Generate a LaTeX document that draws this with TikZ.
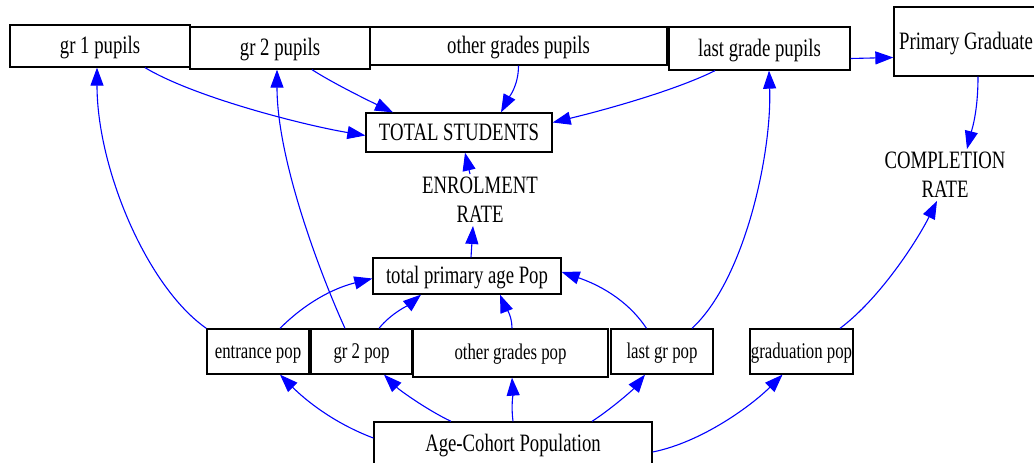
\documentclass[tikz,border=0pt]{standalone}
\usepackage{fontspec}
\newfontfamily\labelfont[FakeStretch=0.75]{Liberation Serif}
\usetikzlibrary{arrows.meta}

\begin{document}
\begin{tikzpicture}[x=1pt,y=-1pt,
  box/.style={draw=black, line width=1.3pt, inner sep=0pt, text=black,
    text height=18.75pt, text depth=3.75pt,
    font=\labelfont\fontsize{25}{29}\selectfont},
  popbox/.style={box, text height=16.8pt, text depth=3.4pt,
    font=\labelfont\fontsize{22.4}{26}\selectfont},
  rate/.style={align=center, inner sep=3pt, text=black,
    font=\labelfont\fontsize{25}{29}\selectfont},
  link/.style={draw=blue, line width=1.1pt, -{Triangle[length=18pt,width=13pt]}},
]
\useasboundingbox[fill=white] (0,0) rectangle (1034,463);

% stocks of pupils
\node[box, minimum width=180pt, minimum height=42pt] (g1p) at (100,46) {gr 1 pupils};
\node[box, minimum width=180pt, minimum height=42pt] (g2p) at (280,48) {gr 2 pupils};
\node[box, minimum width=297pt, minimum height=38pt] (ogp) at (518.5,46) {other grades pupils};
\node[box, minimum width=181pt, minimum height=43pt] (lgp) at (759.5,48.5) {last grade pupils};
\node[box, minimum width=144pt, minimum height=69pt] (pg) at (966,41.5) {Primary Graduate};
\node[box, minimum width=186pt, minimum height=39pt] (ts) at (459,132.5) {TOTAL STUDENTS};

% rates
\node[rate] (er) at (480,200) {ENROLMENT\\RATE};
\node[rate] (cr) at (945,175) {COMPLETION\\RATE};

% population
\node[box, minimum width=188pt, minimum height=36pt] (tpa) at (467,276) {total primary age Pop};
\node[popbox, minimum width=102pt, minimum height=45pt] (ep) at (258,351.5) {entrance pop};
\node[popbox, minimum width=101pt, minimum height=45pt] (g2pop) at (361.5,351.5) {gr 2 pop};
\node[popbox, minimum width=195pt, minimum height=48pt] (ogpop) at (510.5,353) {other grades pop};
\node[popbox, minimum width=102pt, minimum height=45pt] (lgpop) at (662,351.5) {last gr pop};
\node[popbox, minimum width=103pt, minimum height=45pt] (gpop) at (801.5,351.5) {graduation pop};
\node[box, minimum width=278pt, minimum height=44pt] (acp) at (513,444) {Age-Cohort Population};

% pupils into the total
\draw[link] ([xshift=45pt]g1p.south) .. controls +(50,30) and +(-60,-10) .. ([yshift=-3pt]ts.west);
\draw[link] ([xshift=32pt]g2p.south) .. controls +(20,13) and +(-25,-12) .. ([xshift=-66pt]ts.north);
\draw[link] (ogp.south) .. controls +(0,20) and +(8,-15) .. ([xshift=42pt]ts.north);
\draw[link] ([xshift=-44.5pt]lgp.south) .. controls +(-40,20) and +(50,-12) .. ([yshift=10pt]ts.east);
\draw[link] ([yshift=-10pt]lgp.east) -- ([yshift=-16pt]pg.west);
\draw[link] ([xshift=12pt]pg.south) .. controls +(0,35) and +(5,-20) .. ([xshift=22pt]cr.north);
\draw[link] ([xshift=38.5pt]gpop.north) .. controls +(40,-30) and +(-20,40) .. ([xshift=-8pt]cr.south);

% cohort into the population boxes
\draw[link] ([yshift=-8pt]acp.east) .. controls +(50,-10) and +(-30,30) .. ([xshift=-19pt]gpop.south);
\draw[link] ([xshift=79pt]acp.north) .. controls +(20,-13) and +(-12,15) .. ([xshift=-17pt]lgpop.south);
\draw[link] (acp.north) .. controls +(-2,-15) and +(1,15) .. ([xshift=1.5pt]ogpop.south);
\draw[link] ([xshift=-62pt]acp.north) .. controls +(-25,-12) and +(15,15) .. ([xshift=22.5pt]g2pop.south);
\draw[link] ([yshift=6pt]acp.west) .. controls +(-40,-15) and +(25,25) .. ([xshift=22pt]ep.south);

% population boxes into the total
\draw[link] ([xshift=22pt]ep.north) .. controls +(25,-25) and +(-40,10) .. ([yshift=-2.5pt]tpa.west);
\draw[link] ([xshift=17.5pt]g2pop.north) .. controls +(12,-15) and +(-12,10) .. ([xshift=-46pt]tpa.south);
\draw[link] ([xshift=1.5pt]ogpop.north) .. controls +(0,-15) and +(4,10) .. ([xshift=33pt]tpa.south);
\draw[link] ([xshift=-15.5pt]lgpop.north) .. controls +(-20,-30) and +(35,12) .. ([yshift=4pt]tpa.east);
\draw[link] ([xshift=4pt]tpa.north) -- ([xshift=-7pt]er.south);
\draw[link] ([xshift=-10pt]er.north) -- ([xshift=6pt]ts.south);

% population boxes into the pupil stocks
\draw[link] (ep.north west) .. controls +(-60,-42) and +(0,100) .. ([xshift=-3pt]g1p.south);
\draw[link] ([xshift=-16.5pt]g2pop.north) .. controls +(-25,-55) and +(0,90) .. ([xshift=-3pt]g2p.south);
\draw[link] ([xshift=30pt]lgpop.north) .. controls +(53,-49) and +(3,82) .. ([xshift=9.5pt]lgp.south);
\end{tikzpicture}
\end{document}
